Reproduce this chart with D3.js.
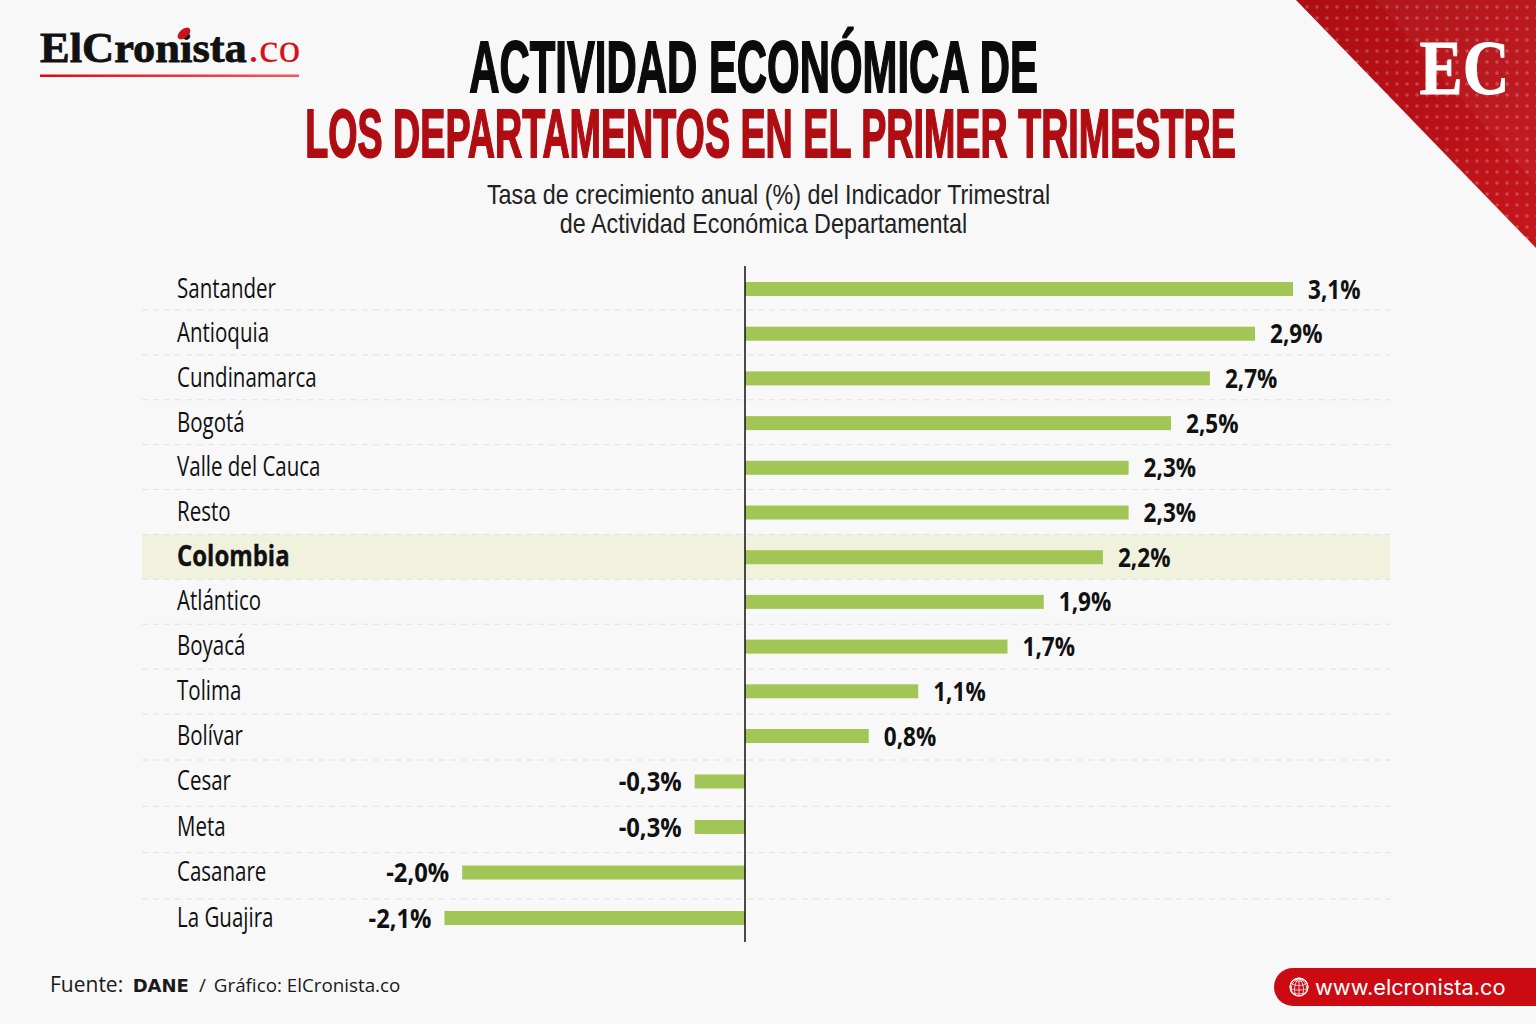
<!DOCTYPE html>
<html>
<head>
    <meta charset="utf-8">
    <script src="https://d3js.org/d3.v7.min.js"></script>
    <style>
        html, body { margin: 0; padding: 0; background: #f8f8f8; }
        svg { display: block; }
    </style>
</head>
<body>
    <svg width="1536" height="1024"></svg>
    <script>
        // printed values
        const departments = ["Santander", "Antioquia", "Cundinamarca", "Bogotá", "Valle del Cauca", "Resto", "Colombia",
            "Atlántico", "Boyacá", "Tolima", "Bolívar", "Cesar", "Meta", "Casanare", "La Guajira"]
        const values = [3.1, 2.9, 2.7, 2.5, 2.3, 2.3, 2.2, 1.9, 1.7, 1.1, 0.8, -0.3, -0.3, -2.0, -2.1]
        // the bars in the picture are not to scale with their labels, so this is what they measure
        const barValues = [3.1, 2.885, 2.63, 2.41, 2.17, 2.17, 2.025, 1.69, 1.485, 0.98, 0.7, -0.285, -0.285, -1.6, -1.7]
        const titleLines = ["ACTIVIDAD ECONÓMICA DE", "LOS DEPARTAMENTOS EN EL PRIMER TRIMESTRE"]
        const subtitleLines = ["Tasa de crecimiento anual (%) del Indicador Trimestral", "de Actividad Económica Departamental"]

        const svg = d3.select("svg")
        const defs = svg.append("defs")

        var x = d3.scaleLinear().domain([0, 3.1]).range([745, 1293])
        // rows get a bit wider towards the bottom of the chart
        var y = d3.scaleLinear().domain([0, 10, 14]).range([289, 736, 918])
        var rule_y = d3.scaleLinear().domain([0, 9, 10, 13]).range([310, 714, 760, 899])

        // squeezed text: the installed fonts have no condensed cut
        function squeezed(parent, str, tx, ty, size, sx, opts){
            opts = opts || {}
            return parent.append("text")
                .attr("transform", "translate(" + tx + "," + ty + ") scale(" + sx + ",1)")
                .attr("font-family", opts.family || "'Open Sans'")
                .attr("font-weight", opts.weight || 400)
                .attr("font-size", size)
                .attr("text-anchor", opts.anchor || "start")
                .attr("fill", opts.fill || "#111")
                .attr("stroke", opts.stroke || "none")
                .attr("stroke-width", opts.strokeWidth || 0)
                .text(str)
        }

        svg.append("rect").attr("width", 1536).attr("height", 1024).attr("fill", "#f8f8f8")

        // corner triangle
        const cornerGrad = defs.append("linearGradient").attr("id", "cornerGrad")
            .attr("x1", 0).attr("y1", 0).attr("x2", 1).attr("y2", 1)
        cornerGrad.append("stop").attr("offset", "0%").attr("stop-color", "#ac0e13")
        cornerGrad.append("stop").attr("offset", "55%").attr("stop-color", "#b81117")
        cornerGrad.append("stop").attr("offset", "100%").attr("stop-color", "#c6161d")
        const dots = defs.append("pattern").attr("id", "dots").attr("patternUnits", "userSpaceOnUse")
            .attr("x", 1292).attr("y", 2).attr("width", 10).attr("height", 11)
        dots.append("circle").attr("cx", 5).attr("cy", 5).attr("r", 1.8).attr("fill", "#fff").attr("fill-opacity", 0.22)
        const corner = "1296,0 1536,0 1536,248"
        svg.append("polygon").attr("points", corner).attr("fill", "url(#cornerGrad)")
        svg.append("polygon").attr("points", "1375,0 1536,0 1536,185").attr("fill", "#fff").attr("fill-opacity", 0.035)
        svg.append("polygon").attr("points", corner).attr("fill", "url(#dots)")
        squeezed(svg, "EC", 1464.5, 93.5, 78, 0.83, {family: "'Liberation Serif'", weight: 700, anchor: "middle", fill: "#fff", stroke: "#fff", strokeWidth: 1})

        // logo
        const logoFade = defs.append("linearGradient").attr("id", "logoFade")
        logoFade.append("stop").attr("offset", "0%").attr("stop-color", "#dd0a12")
        logoFade.append("stop").attr("offset", "100%").attr("stop-color", "#ee5a62")
        squeezed(svg, "ElCronista", 40, 62, 43, 1.035, {family: "'Liberation Serif'", weight: 700, fill: "#111", stroke: "#111", strokeWidth: 0.8})
        squeezed(svg, ".co", 248, 62, 43, 1.02, {family: "'Liberation Serif'", fill: "#d8111a"})
        svg.append("rect").attr("x", 40).attr("y", 74.5).attr("width", 259).attr("height", 2.5).attr("fill", "url(#logoFade)")
        svg.append("ellipse").attr("cx", 184).attr("cy", 33.5).attr("rx", 7.5).attr("ry", 4.4)
            .attr("transform", "rotate(-40 184 33.5)").attr("fill", "#c9131a")

        // title
        squeezed(svg, titleLines[0], 753.5, 92, 72, 0.582, {family: "'Liberation Sans'", weight: 700, anchor: "middle", fill: "#0b0b0b", stroke: "#0b0b0b", strokeWidth: 1.8})
        squeezed(svg, titleLines[1], 770.5, 157, 69, 0.546, {family: "'Liberation Sans'", weight: 700, anchor: "middle", fill: "#b00d12", stroke: "#b00d12", strokeWidth: 1.8})
        squeezed(svg, subtitleLines[0], 768.5, 204, 27, 0.865, {family: "'Liberation Sans'", anchor: "middle", fill: "#222"})
        squeezed(svg, subtitleLines[1], 763.5, 233, 27, 0.865, {family: "'Liberation Sans'", anchor: "middle", fill: "#222"})

        // highlighted row
        const colombia = departments.indexOf("Colombia")
        svg.append("rect").attr("x", 142).attr("y", rule_y(colombia - 1)).attr("width", 1248)
            .attr("height", rule_y(colombia) - rule_y(colombia - 1)).attr("fill", "#f0f2de")

        // row rules
        svg.selectAll("line.rule")
            .data(d3.range(departments.length - 1))
            .enter()
            .append("line")
            .attr("class", "rule")
            .attr("x1", 142)
            .attr("x2", 1390)
            .attr("y1", d => rule_y(d))
            .attr("y2", d => rule_y(d))
            .attr("stroke", "#e0e0dc")
            .attr("stroke-width", 1)
            .attr("stroke-dasharray", "6,5")

        // bars
        svg.selectAll("rect.bar")
            .data(barValues)
            .enter()
            .append("rect")
            .attr("class", "bar")
            .attr("x", d => Math.min(x(0), x(d)))
            .attr("y", (d, i) => y(i) - 7)
            .attr("width", d => Math.abs(x(d) - x(0)))
            .attr("height", 14)
            .attr("fill", "#a2c655")

        // zero line
        svg.append("line").attr("x1", x(0)).attr("x2", x(0)).attr("y1", 266).attr("y2", 942)
            .attr("stroke", "#111").attr("stroke-width", 1.5)

        // row labels
        departments.forEach((name, i) => {
            const bold = i === colombia
            squeezed(svg, name, 177, y(i) + 8.5, bold ? 29 : 27, bold ? 0.826 : 0.76, {weight: bold ? 700 : 400, stroke: bold ? "#111" : "none", strokeWidth: bold ? 0.4 : 0})
        })

        // value labels
        values.forEach((v, i) => {
            const label = v.toFixed(1).replace(".", ",") + "%"
            const neg = v < 0
            squeezed(svg, label, x(barValues[i]) + (neg ? -13 : 15), y(i) + 9.5, 27, neg ? 0.88 : 0.835, {weight: 700, anchor: neg ? "end" : "start"})
        })

        // footer
        const foot = svg.append("text").attr("x", 50).attr("y", 992).attr("font-family", "'Open Sans'").attr("fill", "#1a1a1a")
        foot.append("tspan").attr("font-size", 21).text("Fuente: ")
        foot.append("tspan").attr("font-size", 18).attr("font-weight", 700).attr("font-family", "'DejaVu Sans'").attr("dx", 4).text("DANE")
        foot.append("tspan").attr("font-size", 19).attr("dx", 10).text("/")
        foot.append("tspan").attr("font-size", 18.8).attr("dx", 8).text("Gráfico: ElCronista.co")

        // web address pill
        svg.append("path").attr("d", "M1536,968 H1293 a19,19 0 0 0 0,38 H1536 Z").attr("fill", "#cc0a12")
        const globe = d3.geoOrthographic().scale(9).translate([1299, 987]).rotate([0, -20]).clipAngle(90)
        svg.append("path").datum(d3.geoGraticule().step([30, 30])()).attr("d", d3.geoPath(globe))
            .attr("fill", "none").attr("stroke", "#fff").attr("stroke-width", 0.8)
        svg.append("circle").attr("cx", 1299).attr("cy", 987).attr("r", 9)
            .attr("fill", "none").attr("stroke", "#fff").attr("stroke-width", 1.1)
        svg.append("text").attr("x", 1315).attr("y", 995).attr("font-family", "Inter").attr("font-size", 21.8)
            .attr("fill", "#fff").text("www.elcronista.co")
    </script>
</body>
</html>
